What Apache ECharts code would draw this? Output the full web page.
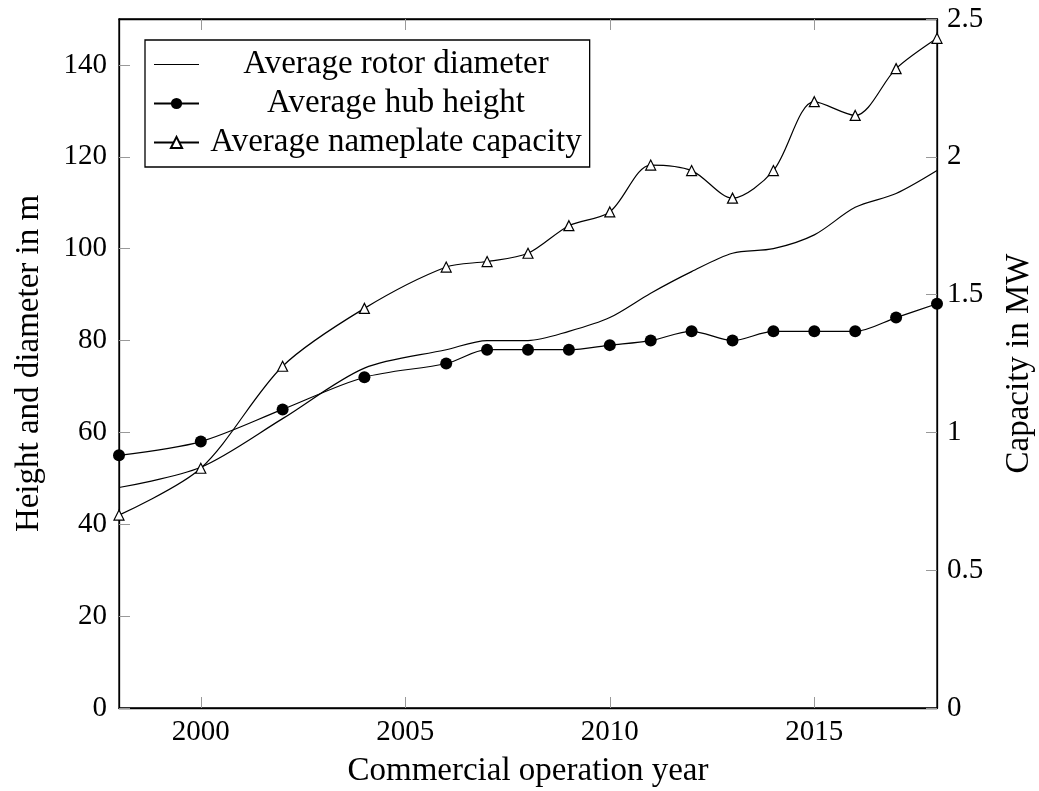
<!DOCTYPE html>
<html>
<head>
<meta charset="utf-8">
<script src="https://cdn.jsdelivr.net/npm/echarts@6/dist/echarts.min.js"></script>
<style>html,body{margin:0;padding:0;background:#fff;}#c{width:1039px;height:791px;}</style>
</head>
<body>
<div id="c"></div>
<script>
var years = [1998, 2000, 2002, 2004, 2006, 2007, 2008, 2009, 2010, 2011, 2012, 2013, 2014, 2015, 2016, 2017, 2018];
var rotorDiameter = [48, 52.4, 63, 74, 78, 80, 80, 82, 85, 90.3, 95, 99, 100, 103, 109, 112, 117];
var hubHeight = [55, 58, 65, 72, 75, 78, 78, 78, 79, 80, 82, 80, 82, 82, 82, 85, 88];
var capacity = [0.7, 0.87, 1.24, 1.45, 1.6, 1.62, 1.65, 1.75, 1.8, 1.97, 1.95, 1.85, 1.95, 2.2, 2.15, 2.32, 2.43];
var xTicks = [2000, 2005, 2010, 2015];
var leftTicks = [0, 20, 40, 60, 80, 100, 120, 140];
var rightTicks = [0, 0.5, 1, 1.5, 2, 2.5];

function pairs(xs, ys) { return xs.map(function (x, i) { return [x, ys[i]]; }); }

var FONT = 'Liberation Serif';
var FS = 29;   // numbers
var FT = 33;   // words
var chart = echarts.init(document.getElementById('c'), null, {renderer: 'canvas'});
var tickStyle = {show: true, inside: true, length: 11, lineStyle: {color: '#999', width: 1}};
chart.setOption({
  animation: false,
  backgroundColor: '#fff',
  textStyle: {fontFamily: FONT, color: '#000'},
  grid: {left: 119, right: 102, top: 19, bottom: 83, outerBoundsMode: 'none', containLabel: false,
         show: true, borderColor: '#000', borderWidth: 1.3},
  legend: {
    orient: 'vertical', left: 145, top: 40,
    padding: [8, 8, 8, 8], itemGap: 6, itemWidth: 45, itemHeight: 14,
    borderColor: '#000', borderWidth: 1.3, backgroundColor: '#fff',
    data: [
      {name: 'Average rotor diameter', icon: 'path://M0,0 L46,0 L46,1 L0,1 Z'},
      'Average hub height',
      'Average nameplate capacity'
    ],
    formatter: function (n) { return '{a|' + n + '}'; },
    textStyle: {fontFamily: FONT, fontSize: FT, color: '#000',
      rich: {a: {fontFamily: FONT, fontSize: FT, width: 384, align: 'center', height: 31}}}
  },
  xAxis: [{
    type: 'value', min: 1998, max: 2018, position: 'bottom',
    name: 'Commercial operation year', nameLocation: 'middle', nameGap: 47,
    nameTextStyle: {fontFamily: FONT, fontSize: FT, color: '#000'},
    axisLine: {show: true, onZero: false, lineStyle: {color: '#000', width: 1.3}},
    axisTick: Object.assign({customValues: xTicks}, tickStyle),
    axisLabel: {customValues: xTicks, fontFamily: FONT, fontSize: FS, color: '#000', margin: 10,
      formatter: function (v) { return String(v); }},
    splitLine: {show: false}
  }, {
    type: 'value', min: 1998, max: 2018, position: 'top',
    axisLine: {show: true, onZero: false, lineStyle: {color: '#000', width: 1.3}},
    axisTick: Object.assign({customValues: xTicks}, tickStyle),
    axisLabel: {show: false},
    splitLine: {show: false}
  }],
  yAxis: [{
    type: 'value', min: 0, max: 150, position: 'left',
    name: 'Height and diameter in m', nameLocation: 'middle', nameGap: 73, nameRotate: 90,
    nameTextStyle: {fontFamily: FONT, fontSize: FT, color: '#000'},
    axisLine: {show: true, lineStyle: {color: '#000', width: 1.3}},
    axisTick: Object.assign({customValues: leftTicks}, tickStyle),
    axisLabel: {customValues: leftTicks, fontFamily: FONT, fontSize: FS, color: '#000', margin: 12},
    splitLine: {show: false}
  }, {
    type: 'value', min: 0, max: 2.5, position: 'right',
    name: 'Capacity in MW', nameLocation: 'middle', nameGap: 66, nameRotate: 90,
    nameTextStyle: {fontFamily: FONT, fontSize: FT, color: '#000'},
    axisLine: {show: true, lineStyle: {color: '#000', width: 1.3}},
    axisTick: Object.assign({customValues: rightTicks}, tickStyle),
    axisLabel: {customValues: rightTicks, fontFamily: FONT, fontSize: FS, color: '#000', margin: 10},
    splitLine: {show: false}
  }],
  series: [{
    name: 'Average rotor diameter', type: 'line', xAxisIndex: 0, yAxisIndex: 0,
    data: pairs(years, rotorDiameter), smooth: 0.3, symbol: 'none',
    lineStyle: {color: '#000', width: 1.2}, itemStyle: {color: '#000'}
  }, {
    name: 'Average hub height', type: 'line', xAxisIndex: 0, yAxisIndex: 0,
    data: pairs(years, hubHeight), smooth: 0.3, symbol: 'circle', symbolSize: 12,
    lineStyle: {color: '#000', width: 1.2}, itemStyle: {color: '#000'}
  }, {
    name: 'Average nameplate capacity', type: 'line', xAxisIndex: 0, yAxisIndex: 1,
    data: pairs(years, capacity), smooth: 0.3, symbol: 'triangle', symbolSize: 10,
    lineStyle: {color: '#000', width: 1.2}, itemStyle: {color: '#fff', borderColor: '#000', borderWidth: 1.2}
  }]
});
</script>
</body>
</html>
